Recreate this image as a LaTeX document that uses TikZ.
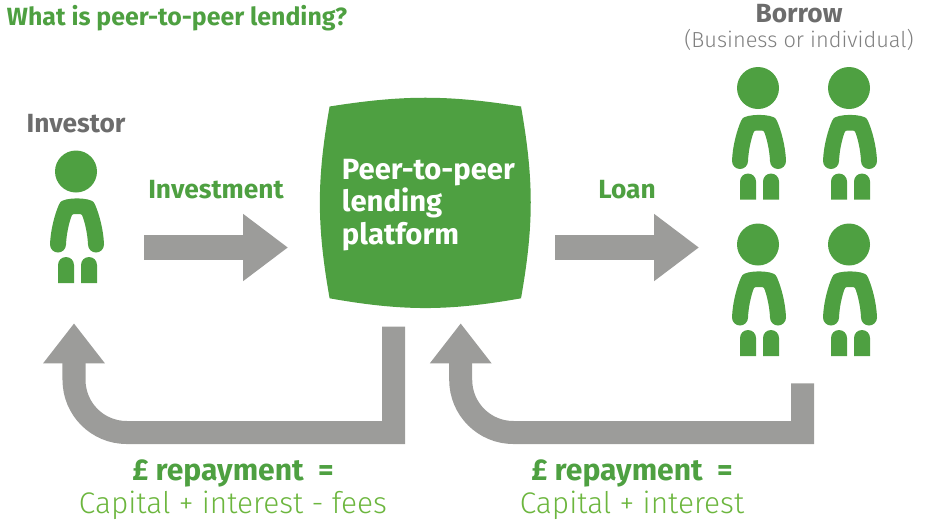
\documentclass[tikz,border=0pt]{standalone}
\usepackage{fontspec}
\usepackage{tikz}
\usetikzlibrary{
  arrows.meta,
  backgrounds
}
\setmainfont{Fira Sans}
\newfontfamily\lightfont{Fira Sans Light}
\definecolor{leafGreen}{RGB}{78,160,65}
\definecolor{limeGreen}{RGB}{108,182,62}
\definecolor{flowGrey}{RGB}{156,156,154}
\definecolor{labelGrey}{RGB}{108,108,108}
\definecolor{noteGrey}{RGB}{128,128,128}
\tikzset{
  flow/.style={-{Triangle[length=1.12cm,width=1.6cm]}, draw=flowGrey, line width=0.625cm},
  returnflow/.style={-{Triangle[length=1cm,width=1.475cm]}, draw=flowGrey, line width=0.575cm, line join=miter},
  heading/.style={font=\fontsize{17.7}{20}\selectfont\bfseries, text=leafGreen},
  actor/.style={font=\fontsize{18.7}{20}\selectfont\bfseries, text=labelGrey},
  flowlabel/.style={font=\fontsize{18.7}{20}\selectfont\bfseries, text=leafGreen},
  sumlabel/.style={font=\fontsize{21.4}{23}\selectfont\bfseries, text=leafGreen},
  sumnote/.style={font=\fontsize{21.2}{23}\selectfont\lightfont, text=limeGreen},
  actornote/.style={font=\fontsize{15.5}{18}\selectfont\lightfont, text=noteGrey},
  platformbox/.style={
    minimum width=4.77cm,
    minimum height=4.78cm,
    inner sep=0pt
  },
  platformtext/.style={
    align=left,
    text=white,
    font=\fontsize{20.8}{23.2}\selectfont\bfseries
  },
  % head, arms and legs, drawn around the middle of the head
  person/.pic={
    \fill[leafGreen] (0,0) circle[radius=21];
    \fill[leafGreen] (-26,73) .. controls (-25.5,58) and (-21,42) .. (-17,33)
      .. controls (-15.5,29.5) and (-13,28.5) .. (-10,28)
      .. controls (-3,26.5) and (5,26.5) .. (12,28)
      .. controls (15,28.5) and (17.5,29.5) .. (19,33)
      .. controls (23,42) and (27.5,58) .. (28,73)
      .. controls (28,77.4) and (24.4,81) .. (20,81)
      .. controls (15.6,81) and (12,77.4) .. (12,73)
      .. controls (11.5,62) and (9,52) .. (7,46)
      .. controls (6.5,43.5) and (5.5,42.5) .. (4,42.5) -- (-2,42.5)
      .. controls (-3.5,42.5) and (-4.5,43.5) .. (-5,46)
      .. controls (-7,52) and (-9.5,62) .. (-10,73)
      .. controls (-10,77.4) and (-13.6,81) .. (-18,81)
      .. controls (-22.4,81) and (-26,77.4) .. (-26,73) -- cycle;
    \fill[leafGreen] (-18,111.5) -- (-18,93.5)
      .. controls (-18,89) and (-14.4,85.5) .. (-10,85.5)
      .. controls (-5.6,85.5) and (-2,89) .. (-2,93.5) -- (-2,111.5) -- cycle;
    \fill[leafGreen] (5,111.5) -- (5,93.5)
      .. controls (5,89) and (8.6,85.5) .. (13,85.5)
      .. controls (17.4,85.5) and (21,89) .. (21,93.5) -- (21,111.5) -- cycle;
  }
}

\begin{document}
\begin{tikzpicture}[x=0.025cm,y=-0.025cm]
  \useasboundingbox (0,0) rectangle (939,522);

  \node[heading] (title) at (177,18) {What is peer-to-peer lending?};

  % people
  \node[actor] (investor) at (76,124) {Investor};
  \pic (investorfig) at (76,171.5) {person};
  \node[actor] (borrow) at (799,14) {Borrow};
  \node[actornote] (borrownote) at (799,40) {(Business or individual)};
  \pic (borrowerA) at (758,88) {person};
  \pic (borrowerB) at (849,88) {person};
  \pic (borrowerC) at (758,244.5) {person};
  \pic (borrowerD) at (849,244.5) {person};

  % platform with bulging sides
  \node[platformbox] (platform) at (425.3,202.4) {};
  \node[platformtext, anchor=west] (platformlabel) at (337,205) {Peer-to-peer\\lending\\platform};
  \begin{scope}[on background layer]
    \fill[leafGreen] (platform.north west) to[bend left=9] (platform.north east)
      to[bend left=10] (platform.south east) to[bend left=10] (platform.south west)
      to[bend left=10] cycle;
  \end{scope}

  % flows
  \coordinate (investstart) at (144,247.5);
  \coordinate (investend) at (288,247.5);
  \coordinate (loanstart) at (555,247.5);
  \coordinate (loanend) at (699,247.5);
  \node[flowlabel] (investment) at (216,190) {Investment};
  \node[flowlabel] (loan) at (627,190) {Loan};
  \draw[flow] (investstart) -- (investend);
  \draw[flow] (loanstart) -- (loanend);

  \coordinate (platformout) at (393.7,326.7);
  \coordinate (platformcorner) at (393.7,432.5);
  \coordinate (investbend) at (126.7,432.5);
  \coordinate (investup) at (74,379.8);
  \coordinate (investtip) at (74,323.3);
  \draw[returnflow] (platformout) -- (platformcorner) -- (investbend) to[out=180,in=-90] (investup) -- (investtip);

  \coordinate (borrowout) at (802.7,383.3);
  \coordinate (borrowcorner) at (802.7,432.5);
  \coordinate (platformbend) at (513.4,432.5);
  \coordinate (platformup) at (460.7,379.8);
  \coordinate (platformtip) at (460.7,323.3);
  \draw[returnflow] (borrowout) -- (borrowcorner) -- (platformbend) to[out=180,in=-90] (platformup) -- (platformtip);

  % repayment sums
  \node[sumlabel] (investsum) at (233,473.5) {£ repayment\ \ =};
  \node[sumnote] (investnote) at (233,505.5) {Capital + interest - fees};
  \node[sumlabel] (platformsum) at (632,473.5) {£ repayment\ \ =};
  \node[sumnote] (platformnote) at (632,505.5) {Capital + interest};
\end{tikzpicture}
\end{document}
